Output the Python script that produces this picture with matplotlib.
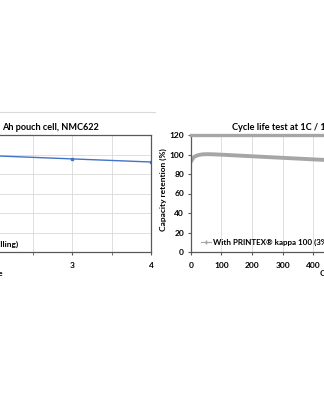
import matplotlib
matplotlib.use("Agg")
import matplotlib.pyplot as plt
from matplotlib.lines import Line2D

plt.rcParams['font.family'] = ['Lato', 'DejaVu Sans']
plt.rcParams['font.weight'] = 'bold'

# ---- data ----
left_x = [1, 2, 3, 4]
left_y = [101.8, 98.7, 95.5, 92.3]
left_label = "Without PRINTEX\u00ae kappa 100 (after milling)"
left_title = "Ah pouch cell, NMC622"
left_xlabel = "Cycle"
left_xticks = [0, 1, 2, 3, 4]

right_x = [0, 5, 10, 20, 30, 40, 50, 60, 80, 100, 150, 200, 250, 300, 350, 400, 450, 500, 550, 600]
right_y = [93.0, 95.5, 97.5, 99.0, 99.8, 100.2, 100.3, 100.3, 100.1, 99.8, 99.0, 98.2, 97.4, 96.6, 95.8, 95.0, 94.3, 93.6, 93.0, 92.4]
right_label = "With PRINTEX\u00ae kappa 100 (3%)"
right_title = "Cycle life test at 1C / 1C"
right_xlabel = "Cycle number"
right_xticks = [0, 100, 200, 300, 400, 500, 600, 700, 800, 900, 1000]
yticks = [0, 20, 40, 60, 80, 100, 120]

W, H = 324, 400
fig = plt.figure(figsize=(W / 100, H / 100), dpi=100)
fig.patch.set_facecolor('white')

def px(x0, y_top, w, h):
    return [x0 / W, (H - y_top - h) / H, w / W, h / H]

grid_col = '#d9d9d9'
tick_fs = 6

# ---- left chart ----
ax1 = fig.add_axes(px(-165, 135, 316, 117))
ax1.plot(left_x, left_y, color='#4472c4', lw=1.0, marker='s', ms=1.8, label=left_label)
ax1.set_xlim(0, 4)
ax1.set_ylim(0, 120)
ax1.set_xticks(left_xticks)
ax1.set_xticks([0.5, 1.5, 2.5, 3.5], minor=True)
ax1.set_yticks(yticks)
ax1.grid(True, which='both', color=grid_col, lw=0.6)
ax1.set_axisbelow(True)
for s in ax1.spines.values():
    s.set_color('#595959')
    s.set_linewidth(0.9)
ax1.tick_params(axis='both', which='both', labelsize=tick_fs, length=2, color='#595959', pad=5)
ax1.set_xlabel(left_xlabel, fontsize=6, fontweight='bold')
ax1.xaxis.set_label_coords((0 - 7 + 165) / 316, -(270 - 252) / 117)
ax1.legend(loc='lower right', bbox_to_anchor=(18 / W, (H - 248) / H),
           bbox_transform=fig.transFigure, frameon=False, fontsize=6,
           borderpad=0, borderaxespad=0, handlelength=2)
fig.text(2 / W, 1 - 127 / H, left_title, fontsize=6.6, fontweight='bold', va='center', ha='left')
fig.add_artist(Line2D([0, 155 / W], [1 - 112 / H, 1 - 112 / H], color='#d9d9d9', lw=0.8,
                      transform=fig.transFigure))

# ---- right chart ----
ax2 = fig.add_axes(px(191, 135, 305, 117))
ax2.plot(right_x, right_y, color='#a6a6a6', lw=2.8, label=right_label)
ax2.set_xlim(0, 1000)
ax2.set_ylim(0, 120)
ax2.set_xticks(right_xticks)
ax2.set_yticks(yticks)
ax2.grid(True, axis='x', color=grid_col, lw=0.6)
ax2.set_axisbelow(True)
ax2.spines['left'].set_color('#595959')
ax2.spines['bottom'].set_color('#595959')
ax2.spines['left'].set_linewidth(0.9)
ax2.spines['bottom'].set_linewidth(0.9)
ax2.spines['top'].set_color('#a6a6a6')
ax2.spines['top'].set_linewidth(2.4)
ax2.spines['right'].set_color('#595959')
ax2.tick_params(axis='both', which='both', labelsize=tick_fs, length=2, color='#595959', pad=3)
ax2.tick_params(axis='x', pad=5)
ax2.set_ylabel("Capacity retention (%)", fontsize=6, fontweight='bold')
ax2.yaxis.set_label_coords((167 - 191) / 305, (252 - 190) / 117)
ax2.set_xlabel(right_xlabel, fontsize=6, fontweight='bold')
ax2.xaxis.set_label_coords((316 + 30 - 191) / 305, -(270 - 252) / 117)
leg = ax2.legend(loc='center left', bbox_to_anchor=(201 / W, 1 - 242 / H),
                 bbox_transform=fig.transFigure, frameon=False, fontsize=5.8,
                 borderpad=0, borderaxespad=0, handlelength=1.2, handletextpad=0.25)
for h in leg.legend_handles:
    h.set_linewidth(0.8)
    h.set_marker('+')
    h.set_markersize(2.5)
fig.text(232 / W, 1 - 127 / H, right_title, fontsize=6.6, fontweight='bold', va='center', ha='left')

fig.savefig('out.png', dpi=100)
